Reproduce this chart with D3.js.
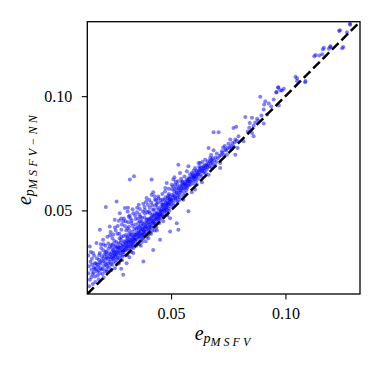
<!DOCTYPE html>
<html>
<head>
<meta charset="utf-8">
<script src="https://cdn.jsdelivr.net/npm/d3@7"></script>
<style>
  body { margin: 0; background: #fff; }
  text { font-family: "Liberation Serif", "DejaVu Serif", serif; }
</style>
</head>
<body>
<div id="chart"></div>
<script>
// axis ranges + ticks (same for both axes)
const axisDomain = [0.0134, 0.1326];
const tickValues = [0.05, 0.10];
const tickLabels = ["0.05", "0.10"];

// [e_p MSFV, e_p MSFV-NN] pairs
const points = [
  [0.0142,0.0168],[0.0139,0.0225],[0.0138,0.0302],
  [0.0145,0.0342],[0.0152,0.024],[0.0145,0.0196],[0.0159,0.0313],[0.0167,0.0211],[0.0167,0.0269],[0.0148,0.0275],[0.0155,0.0262],[0.0162,0.0228],[0.0171,0.0245],[0.0176,0.0291],[0.0158,0.0178],[0.0174,0.0357],[0.0178,0.0262],[0.0164,0.0301],[0.0141,0.0256],[0.0152,0.0208],[0.0169,0.0186],[0.0177,0.0232],[0.0149,0.0318],
  [0.0157,0.0222],[0.0163,0.0251],[0.0172,0.0268],[0.0179,0.0215],[0.0183,0.0238],[0.0186,0.0305],[0.0191,0.0248],[0.0197,0.0282],[0.0154,0.0288],[0.0166,0.0242],
  [0.0181,0.0254],[0.0189,0.0225],[0.0189,0.0313],[0.0189,0.0415],[0.0203,0.0371],[0.0203,0.0276],[0.0185,0.0284],[0.0192,0.0266],[0.0196,0.0241],[0.0199,0.0298],[0.0207,0.0258],[0.0211,0.0232],[0.0215,0.0287],[0.0218,0.032],[0.0218,0.024],[0.0213,0.0345],[0.0195,0.0335],[0.0205,0.0205],[0.0184,0.0198],[0.0209,0.0308],[0.0216,0.0262],[0.0193,0.0352],[0.0201,0.0222],[0.022,0.0295],[0.0187,0.0272],
  [0.0202,0.0245],[0.0206,0.0292],[0.0212,0.0272],[0.0217,0.0305],[0.0221,0.0256],[0.0224,0.0288],[0.0227,0.0332],[0.0231,0.0275],[0.0235,0.0308],[0.0239,0.0295],[0.0242,0.0335],[0.0246,0.0288],[0.0249,0.0312],[0.0204,0.0325],[0.0214,0.0318],[0.0233,0.0342],[0.0246,0.0352],
  [0.0232,0.043],[0.0232,0.0298],[0.0247,0.0327],[0.0254,0.0247],[0.0254,0.0459],[0.0225,0.0268],[0.0228,0.0312],[0.0236,0.0285],[0.024,0.0348],[0.0243,0.0262],[0.0238,0.0238],[0.0245,0.0302],[0.025,0.0291],[0.0252,0.0366],[0.0258,0.0318],[0.0226,0.0355],[0.0234,0.0391],[0.0248,0.0276],[0.0256,0.0339],[0.0229,0.025],[0.0241,0.0318],[0.0259,0.0272],[0.0244,0.0378],[0.0222,0.0231],[0.0237,0.0265],[0.0253,0.0305],[0.0215,0.0515],
  [0.0205,0.0352],[0.0222,0.0385],[0.0236,0.0405],[0.0248,0.0395],[0.0258,0.0412],[0.0267,0.0432],[0.0272,0.0455],[0.0285,0.0438],[0.0294,0.0465],[0.0255,0.0425],[0.0282,0.0465],
  [0.0251,0.0322],[0.0255,0.0298],[0.0257,0.0345],[0.026,0.0308],[0.0264,0.0335],[0.0267,0.0292],[0.027,0.0315],[0.0273,0.0338],[0.0277,0.0322],[0.028,0.0302],[0.0285,0.0328],[0.0289,0.0342],[0.0292,0.0318],[0.0294,0.0365],[0.0297,0.0325],[0.0261,0.0362],[0.0283,0.0385],[0.0274,0.0398],
  [0.0262,0.0284],[0.0262,0.0539],[0.0276,0.0335],[0.0276,0.0488],[0.0291,0.0452],[0.0291,0.0218],[0.0265,0.0301],[0.0268,0.0328],[0.0271,0.0355],[0.0274,0.0289],[0.0278,0.0312],[0.0281,0.0372],[0.0284,0.0345],[0.0287,0.0298],[0.029,0.0325],[0.0293,0.0388],[0.0296,0.0338],[0.0299,0.0361],[0.0266,0.0398],[0.0272,0.0268],[0.0283,0.0415],[0.0288,0.0318],[0.0295,0.0305],[0.0269,0.0342],[0.0279,0.0359],[0.0286,0.0282],[0.0298,0.0432],[0.0282,0.0245],[0.0263,0.0318],[0.0291,0.0352],[0.0275,0.0378],[0.0298,0.051],
  [0.0301,0.0348],[0.0304,0.0325],[0.0307,0.0342],[0.031,0.0385],[0.0313,0.0335],[0.0316,0.0352],[0.032,0.0368],[0.0323,0.0395],[0.0326,0.0358],[0.0329,0.0365],[0.0333,0.0378],[0.0337,0.0352],[0.034,0.0392],[0.0318,0.0412],[0.0333,0.0432],[0.0309,0.0422],
  [0.0302,0.0452],[0.031,0.0495],[0.0319,0.0478],[0.0328,0.0455],[0.0332,0.0505],[0.0312,0.0512],
  [0.0306,0.0269],[0.032,0.0635],[0.0327,0.0444],[0.0335,0.0488],[0.0335,0.0313],[0.0338,0.0649],[0.0302,0.0332],[0.0305,0.0355],[0.0308,0.0378],[0.0311,0.0342],[0.0314,0.0365],[0.0317,0.0398],[0.0319,0.0325],[0.0322,0.0351],[0.0325,0.0372],[0.0328,0.0338],[0.0331,0.0405],[0.0334,0.0361],[0.0337,0.0385],[0.0304,0.0412],[0.0309,0.0305],[0.0316,0.0428],[0.0321,0.0382],[0.0326,0.0318],[0.0332,0.0348],[0.0339,0.0418],[0.0307,0.0368],[0.0313,0.0448],[0.0323,0.0465],[0.0329,0.0392],[0.0336,0.0335],[0.0318,0.0295],[0.0312,0.0362],[0.0324,0.0342],[0.0303,0.0392],[0.0338,0.0372],[0.0315,0.0472],
  [0.0341,0.0378],[0.0346,0.0372],[0.035,0.0395],[0.0355,0.0388],[0.0359,0.0412],[0.0362,0.0402],[0.0366,0.0418],[0.037,0.0388],[0.0374,0.0425],[0.0377,0.0395],[0.038,0.0412],[0.0383,0.0405],[0.0387,0.0432],[0.039,0.0428],[0.0395,0.0445],[0.0357,0.0445],[0.0372,0.0468],[0.0386,0.0485],
  [0.0345,0.0462],[0.0351,0.0492],[0.0359,0.0525],[0.0366,0.0472],[0.0377,0.0495],[0.0384,0.0515],[0.0391,0.0538],
  [0.0364,0.0506],[0.0364,0.0452],[0.0342,0.0365],[0.0345,0.0392],[0.0348,0.0418],[0.0351,0.0375],[0.0354,0.0355],[0.0357,0.0401],[0.036,0.0428],[0.0363,0.0385],[0.0366,0.0368],[0.0369,0.0412],[0.0372,0.0395],[0.0375,0.0442],[0.0378,0.0378],[0.0344,0.0438],[0.0349,0.0345],[0.0356,0.0465],[0.0361,0.0352],[0.0367,0.0435],[0.0373,0.0362],[0.0376,0.0418],[0.0347,0.0402],[0.0358,0.0382],[0.0371,0.0452],[0.0353,0.0425],[0.0365,0.0398],[0.0379,0.0405],[0.0343,0.0478],[0.0362,0.0482],[0.0374,0.0375],[0.0352,0.0512],[0.0368,0.0345],
  [0.0379,0.0529],[0.0379,0.0276],[0.0393,0.0554],[0.0393,0.0459],[0.0408,0.0488],[0.0415,0.0569],[0.0415,0.0635],[0.0382,0.0395],[0.0385,0.0422],[0.0388,0.0448],[0.0391,0.0405],[0.0394,0.0385],[0.0397,0.0432],[0.04,0.0415],[0.0403,0.0458],[0.0406,0.0438],[0.0409,0.0402],[0.0412,0.0468],[0.0415,0.0425],[0.0418,0.0445],[0.0384,0.0468],[0.0389,0.0365],[0.0396,0.0492],[0.0401,0.0378],[0.0407,0.0512],[0.0413,0.0398],[0.0419,0.0482],[0.0386,0.0502],[0.0398,0.0462],[0.0404,0.0425],[0.0411,0.0442],[0.0417,0.0412],[0.0392,0.0418],[0.0402,0.0395],[0.0381,0.0438],[0.0414,0.0535],[0.0399,0.0525],
  [0.0401,0.0448],[0.0405,0.0415],[0.0408,0.0462],[0.041,0.0428],[0.0414,0.0455],[0.0416,0.0472],[0.042,0.0452],[0.0423,0.0448],[0.0426,0.0465],[0.0429,0.0442],[0.0431,0.0488],[0.0434,0.0462],[0.0437,0.0478],[0.044,0.0485],[0.0444,0.0472],[0.0447,0.0465],[0.0421,0.0502],[0.0403,0.0495],
  [0.0405,0.0545],[0.0418,0.0522],[0.0428,0.0562],[0.0437,0.0528],[0.0446,0.0552],
  [0.0422,0.0579],[0.0422,0.0327],[0.043,0.0547],[0.0437,0.0459],[0.0444,0.0561],[0.0452,0.0488],[0.0452,0.0371],[0.0424,0.0432],[0.0427,0.0458],[0.043,0.0475],[0.0433,0.0442],[0.0436,0.0425],[0.0439,0.0492],[0.0442,0.0468],[0.0445,0.0452],[0.0448,0.0505],[0.0451,0.0478],[0.0454,0.0462],[0.0457,0.0518],[0.0426,0.0505],[0.0432,0.0522],[0.0438,0.0412],[0.0443,0.0535],[0.0449,0.0445],[0.0455,0.0498],[0.0428,0.0412],[0.0441,0.0512],[0.0446,0.0482],[0.0435,0.0545],[0.0459,0.0475],[0.0425,0.0478],
  [0.0453,0.0482],[0.0456,0.0495],[0.0458,0.0505],[0.0461,0.0478],[0.0467,0.0525],[0.047,0.0508],[0.0473,0.0498],[0.0479,0.0522],[0.0482,0.0515],[0.0487,0.0532],[0.049,0.0528],[0.0494,0.0545],[0.0497,0.0548],[0.0458,0.0535],[0.0485,0.0555],
  [0.0455,0.0545],[0.0462,0.0572],[0.0475,0.0598],[0.049,0.0595],[0.0503,0.0612],[0.0515,0.0645],
  [0.0466,0.0452],[0.0474,0.0583],[0.0481,0.062],[0.0481,0.0503],[0.0496,0.0561],[0.0496,0.0466],[0.0496,0.0408],[0.0462,0.0492],[0.0465,0.0515],[0.0468,0.0502],[0.0471,0.0485],[0.0474,0.0528],[0.0477,0.0512],[0.048,0.0495],[0.0483,0.0542],[0.0486,0.0525],[0.0489,0.0508],[0.0492,0.0552],[0.0495,0.0535],[0.0498,0.0518],[0.0464,0.0548],[0.0469,0.0472],[0.0476,0.0558],[0.0484,0.0478],[0.0491,0.0572],[0.0478,0.0535],[0.0488,0.0565],[0.0463,0.0525],[0.0493,0.0498],[0.0472,0.0545],
  [0.0501,0.0528],[0.0506,0.0545],[0.0512,0.0565],[0.0519,0.0552],[0.0524,0.0578],[0.053,0.0565],[0.0534,0.0598],[0.054,0.0588],[0.0546,0.0612],[0.0552,0.0598],[0.0558,0.0612],[0.0562,0.0625],[0.0567,0.0608],[0.0573,0.0632],[0.0577,0.0625],[0.0581,0.0638],[0.0587,0.0628],[0.0593,0.0648],[0.0596,0.0658],
  [0.051,0.0635],[0.0532,0.07],[0.0539,0.0664],[0.0525,0.0576],[0.0525,0.0444],[0.0532,0.0415],[0.0518,0.0613],[0.0539,0.0605],[0.0502,0.0542],[0.0505,0.0568],[0.0508,0.0555],[0.0511,0.0532],[0.0514,0.0582],[0.0517,0.0562],[0.052,0.0545],[0.0523,0.0598],[0.0526,0.0555],[0.0529,0.0538],[0.0532,0.0588],[0.0535,0.0572],[0.0538,0.0558],[0.0504,0.0592],[0.0513,0.0518],[0.0521,0.0625],[0.0528,0.0612],[0.0536,0.0545],[0.0509,0.0605],[0.0531,0.0628],[0.0516,0.0592],
  [0.0547,0.0627],[0.0554,0.0547],[0.0561,0.0576],[0.0569,0.0671],[0.0569,0.0635],[0.0576,0.0496],[0.0576,0.0693],[0.0542,0.0578],[0.0545,0.0598],[0.0548,0.0585],[0.0551,0.0612],[0.0557,0.0595],[0.056,0.0618],[0.0563,0.0602],[0.0566,0.0588],[0.0572,0.0625],[0.0575,0.0608],[0.0578,0.0642],[0.0544,0.0638],[0.0553,0.0565],[0.0559,0.0648],[0.0565,0.0615],[0.0571,0.0598],[0.0579,0.0615],[0.055,0.0625],
  [0.0591,0.0664],[0.0591,0.0579],[0.0598,0.0642],[0.0605,0.0686],[0.0605,0.0591],[0.0613,0.0613],[0.0582,0.0628],[0.0585,0.0612],[0.0588,0.0645],[0.0594,0.0632],[0.0597,0.0618],[0.0601,0.0652],[0.0604,0.0635],[0.0607,0.0662],[0.061,0.0645],[0.0616,0.0658],[0.0619,0.0638],[0.0583,0.0658],[0.0599,0.0675],[0.0611,0.0675],[0.062,0.0708],[0.0609,0.0628],
  [0.0602,0.0645],[0.0608,0.0652],[0.0614,0.0668],[0.0618,0.0655],[0.0624,0.0675],[0.0631,0.0688],[0.0636,0.0672],[0.0643,0.0682],[0.065,0.0688],[0.0657,0.0695],[0.0663,0.0702],[0.067,0.0715],[0.0677,0.0722],
  [0.0627,0.0708],[0.0627,0.0656],[0.0635,0.0623],[0.0642,0.0693],[0.0649,0.0722],[0.0656,0.0678],[0.0664,0.0656],[0.0664,0.0773],[0.0622,0.0665],[0.0625,0.0682],[0.063,0.0672],[0.0633,0.0648],[0.0638,0.0685],[0.0641,0.0665],[0.0645,0.0672],[0.0648,0.0698],[0.0652,0.0662],[0.0655,0.0702],[0.0659,0.0688],[0.0637,0.0712],[0.0661,0.0715],[0.0623,0.0692],
  [0.0671,0.0729],[0.0686,0.0763],[0.0686,0.0842],[0.0693,0.0696],[0.07,0.0749],[0.0668,0.0692],[0.0673,0.0705],[0.0676,0.0688],[0.0679,0.0712],[0.0682,0.0728],[0.0689,0.0718],[0.0695,0.0732],[0.0698,0.0712],[0.0675,0.0742],[0.0684,0.0702],
  [0.0708,0.0842],[0.0715,0.0708],[0.0715,0.0686],[0.0722,0.0759],[0.0737,0.0766],[0.0744,0.0744],[0.0751,0.0792],[0.0705,0.0728],[0.0712,0.0738],[0.0718,0.0742],[0.0725,0.0752],[0.0731,0.0742],[0.0728,0.0775],[0.0741,0.0762],[0.0735,0.0782],[0.0747,0.0772],
  [0.0759,0.081],[0.0773,0.0861],[0.0773,0.0781],[0.0781,0.081],[0.0781,0.0744],[0.0785,0.0866],[0.0791,0.0773],[0.0795,0.0825],[0.0755,0.0775],[0.0762,0.0782],[0.0768,0.0795],[0.0778,0.0798],[0.0765,0.0768],[0.0788,0.0805],
  [0.0817,0.0803],[0.0825,0.0909],[0.0844,0.0883],[0.0854,0.0905],[0.0854,0.0839],[0.0861,0.0825],[0.0861,0.0871],[0.0876,0.0901],[0.089,0.0997],[0.0905,0.088],[0.0868,0.0885],[0.0842,0.0862],[0.0882,0.0892],[0.0835,0.0845],[0.0895,0.0915],
  [0.0905,0.0942],[0.0907,0.0964],[0.0912,0.0978],[0.092,0.092],[0.0927,0.0968],[0.0949,0.0985],[0.096,0.1016],[0.0961,0.1018],[0.0968,0.1037],[0.0969,0.1039],[0.0971,0.0959],[0.0978,0.1026],[0.0985,0.1025],[0.0993,0.1032],[0.0938,0.0955],
  [0.1044,0.1085],[0.1051,0.1078],[0.1051,0.1066],[0.1086,0.1061],[0.1088,0.1066],[0.1126,0.1175],[0.1132,0.118],[0.1148,0.1178],[0.1161,0.1183],[0.1164,0.1205],[0.1168,0.1212],[0.119,0.1208],[0.1196,0.1215],[0.1197,0.1219],
  [0.1235,0.1285],[0.1238,0.1289],[0.1248,0.121],[0.1253,0.1215],[0.1269,0.128],[0.1282,0.1317],[0.1283,0.1313]
];

const width = 382, height = 365;
const plotLeft = 87.3, plotRight = 360, plotTop = 21.7, plotBottom = 294;

const svg = d3.select("#chart").append("svg")
  .attr("width", width)
  .attr("height", height);

const x = d3.scaleLinear().domain(axisDomain).range([plotLeft, plotRight]);
const y = d3.scaleLinear().domain(axisDomain).range([plotBottom, plotTop]);

svg.append("defs").append("clipPath").attr("id", "plot")
  .append("rect")
  .attr("x", plotLeft).attr("y", plotTop)
  .attr("width", plotRight - plotLeft).attr("height", plotBottom - plotTop);

// scatter
svg.append("g")
  .attr("clip-path", "url(#plot)")
  .selectAll("circle")
  .data(points)
  .join("circle")
  .attr("cx", d => x(d[0]))
  .attr("cy", d => y(d[1]))
  .attr("r", 2)
  .attr("fill", "#0000ff")
  .attr("fill-opacity", 0.5);

// y = x reference line
svg.append("line")
  .attr("clip-path", "url(#plot)")
  .attr("x1", x(axisDomain[0])).attr("y1", y(axisDomain[0]))
  .attr("x2", x(axisDomain[1])).attr("y2", y(axisDomain[1]))
  .attr("stroke", "#000")
  .attr("stroke-width", 2.5)
  .attr("stroke-dasharray", "9.3,4");

const xAxis = d3.axisBottom(x).tickValues(tickValues)
  .tickFormat((d, i) => tickLabels[i]).tickSizeOuter(0).tickSizeInner(5.5).tickPadding(8.5);
const yAxis = d3.axisLeft(y).tickValues(tickValues)
  .tickFormat((d, i) => tickLabels[i]).tickSizeOuter(0).tickSizeInner(5.5).tickPadding(9.5);

const gX = svg.append("g").attr("transform", `translate(0,${plotBottom})`).call(xAxis);
const gY = svg.append("g").attr("transform", `translate(${plotLeft},0)`).call(yAxis);
[gX, gY].forEach(g => {
  g.select(".domain").remove();
  g.selectAll(".tick line").attr("stroke", "#000").attr("stroke-width", 1.1);
  g.selectAll(".tick text")
    .attr("fill", "#000")
    .style("font-family", "'Liberation Serif', serif")
    .style("font-size", "16px");
});

// frame
svg.append("rect")
  .attr("x", plotLeft).attr("y", plotTop)
  .attr("width", plotRight - plotLeft).attr("height", plotBottom - plotTop)
  .attr("fill", "none")
  .attr("stroke", "#000")
  .attr("stroke-width", 1.3);

// axis labels
const xl = svg.append("text")
  .attr("x", 224).attr("y", 340)
  .attr("text-anchor", "middle")
  .style("font-style", "italic");
xl.append("tspan").style("font-size", "20px").text("e");
xl.append("tspan").style("font-size", "14px").attr("dy", 3).text("p");
xl.append("tspan").style("font-size", "12px").attr("dy", 3).attr("letter-spacing", 3).text("MSFV");

const yl = svg.append("text")
  .attr("transform", `translate(31,158.5) rotate(-90)`)
  .attr("text-anchor", "middle")
  .style("font-style", "italic");
yl.append("tspan").style("font-size", "20px").text("e");
yl.append("tspan").style("font-size", "14px").attr("dy", 3).text("p");
yl.append("tspan").style("font-size", "12px").attr("dy", 3).attr("letter-spacing", 3.2).text("MSFV\u2212NN");
</script>
</body>
</html>
